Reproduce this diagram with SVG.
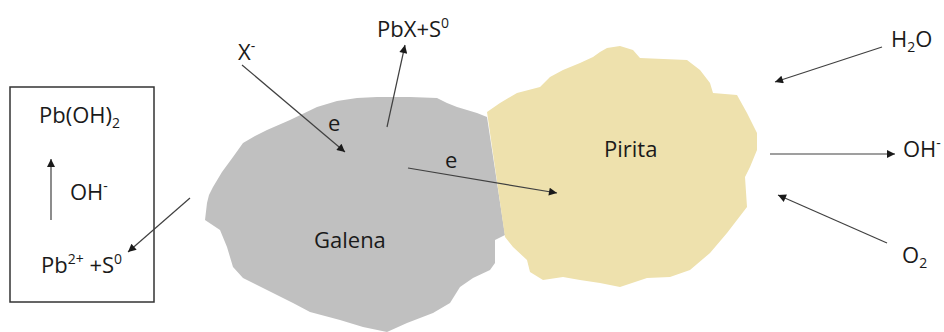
<svg xmlns="http://www.w3.org/2000/svg" width="944" height="332" viewBox="0 0 944 332">
<style>
.t{font-family:"Open Sans","Liberation Sans",sans-serif;font-size:22px;fill:#1a1a1a}
.s{font-size:14px}
.c{stroke:#404040;stroke-width:1.2;fill:none;marker-end:url(#ah)}
</style>
<defs>
<marker id="ah" viewBox="0 0 10 10" refX="10" refY="5" markerWidth="10" markerHeight="8" markerUnits="userSpaceOnUse" orient="auto">
<path d="M0,0 L10,5 L0,10 Z" fill="#1a1a1a"/>
</marker>
</defs>
<rect width="944" height="332" fill="#ffffff"/>
<g id="galena">
<polygon fill="#c0c0c0" points="207,203 209,195 213,187 222,172 233,157 243,143 255,136 267,130 290,120 317,107 337,101 357,98 377,97 410,97 437,98 447,103 457,107 477,113 487,117 505,235 495,240 495,263 490,270 473,278 460,287 450,303 433,313 407,323 387,332 363,327 340,320 310,312 293,303 267,290 243,278 233,267 227,247 220,230 205,220"/>
<text class="t" x="314" y="248">Galena</text>
</g>
<g id="pirita">
<polygon fill="#eee1ad" points="487,112 500,103 517,93 540,87 550,77 563,70 580,63 593,57 600,52 607,48 620,46 633,50 640,58 687,60 700,70 710,83 713,93 737,95 747,113 757,133 757,150 750,167 745,177 747,207 737,220 727,233 710,253 690,270 670,277 647,278 620,287 600,283 580,280 563,277 543,280 530,272 527,260 513,247 505,237"/>
<text class="t" x="604" y="157">Pirita</text>
</g>
<g id="box">
<rect x="10" y="87" width="144" height="215" fill="none" stroke="#333333" stroke-width="1.5"/>
<text class="t" x="39" y="123">Pb(OH)<tspan class="s" dy="5">2</tspan></text>
<text class="t" x="70" y="200">OH<tspan class="s" dy="-9">-</tspan></text>
<text class="t" x="41" y="273">Pb<tspan class="s" dy="-9">2+</tspan><tspan dy="9"> +S</tspan><tspan class="s" dy="-9">0</tspan></text>
</g>
<g id="labels">
<text class="t" x="238" y="60">X<tspan class="s" dy="-9">-</tspan></text>
<text class="t" x="377" y="37">PbX+S<tspan class="s" dy="-9">0</tspan></text>
<text class="t" x="328" y="131">e</text>
<text class="t" x="445" y="168">e</text>
<text class="t" x="891" y="47">H<tspan class="s" dy="5">2</tspan><tspan dy="-5">O</tspan></text>
<text class="t" x="903" y="157">OH<tspan class="s" dy="-9">-</tspan></text>
<text class="t" x="902" y="263">O<tspan class="s" dy="5">2</tspan></text>
</g>
<g id="connectors">
<line class="c" x1="242" y1="65" x2="345" y2="152"/>
<line class="c" x1="387" y1="127" x2="405" y2="45"/>
<line class="c" x1="408" y1="168" x2="557" y2="193"/>
<line class="c" x1="190" y1="198" x2="128" y2="252"/>
<line class="c" x1="51" y1="220" x2="51" y2="159"/>
<line class="c" x1="882" y1="47" x2="775" y2="82"/>
<line class="c" x1="770" y1="154" x2="895" y2="154"/>
<line class="c" x1="887" y1="243" x2="778" y2="195"/>
</g>
</svg>
